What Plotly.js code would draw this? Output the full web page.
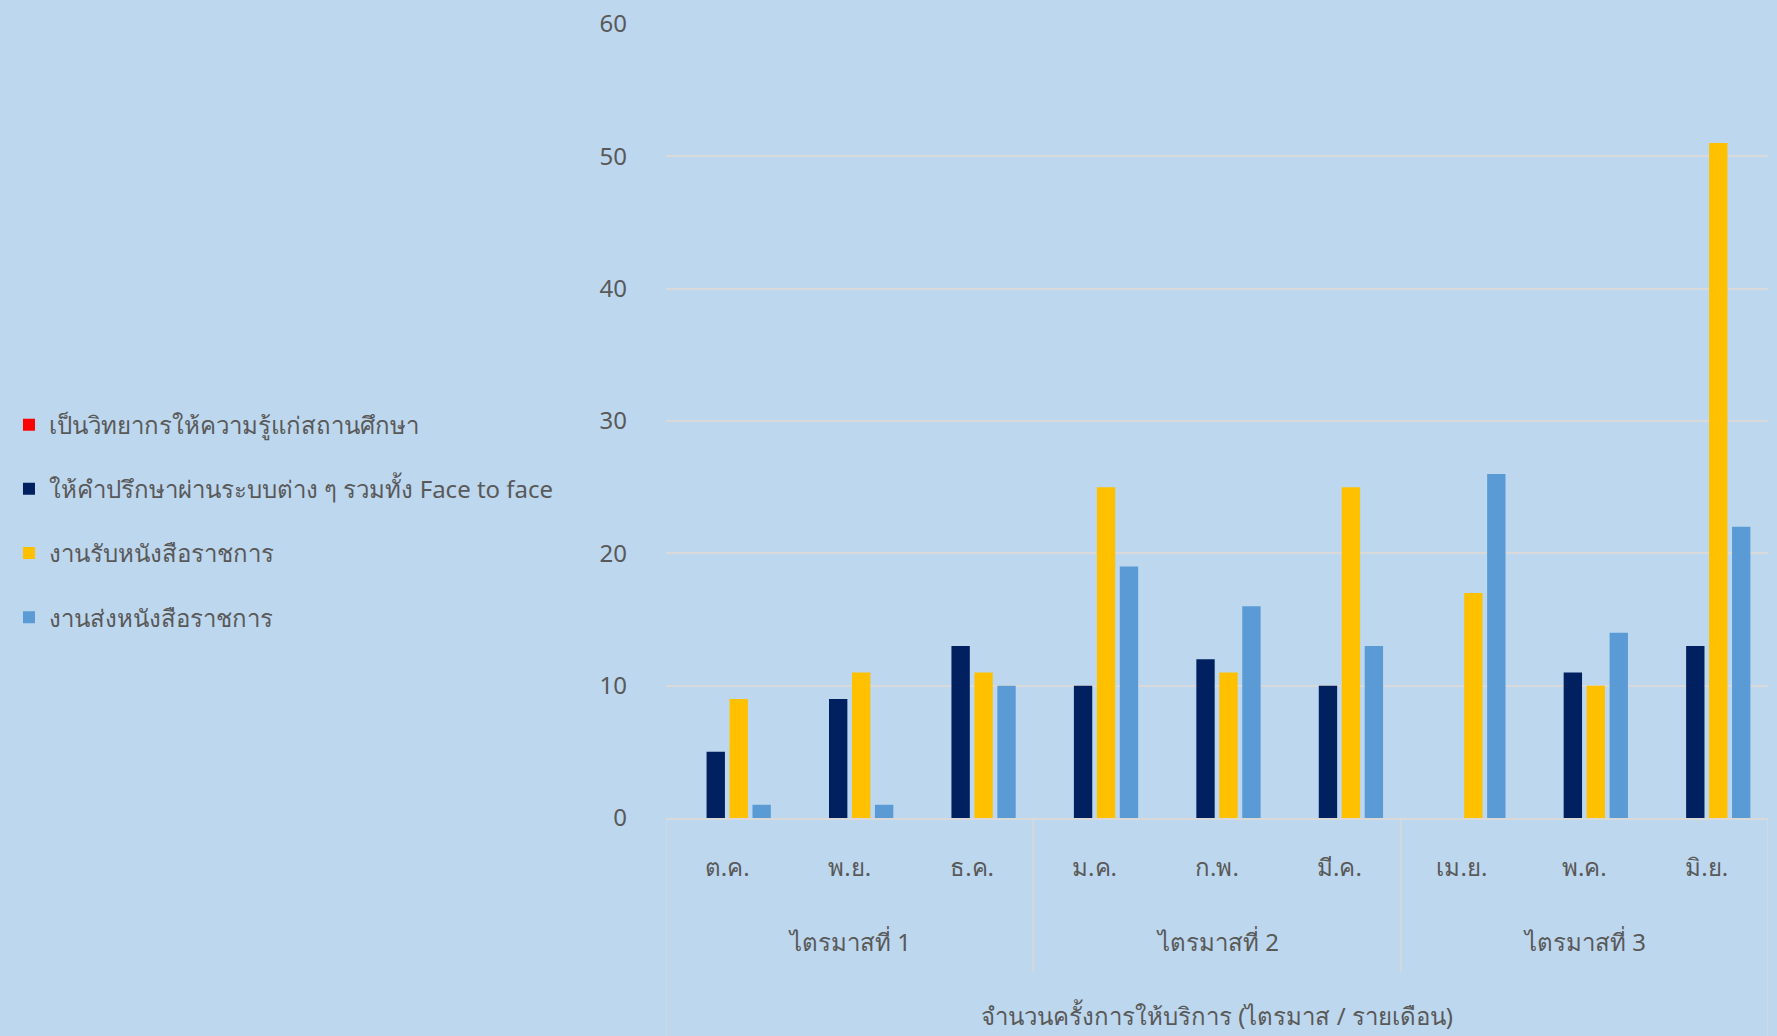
<!DOCTYPE html>
<html>
<head>
<meta charset="utf-8">
<script src="https://cdn.plot.ly/plotly-3.0.1.min.js"></script>
<style>html,body{margin:0;padding:0;background:#BDD7EE;}</style>
</head>
<body>
<div id="chart" style="width:1777px;height:1036px;"></div>
<script>
// Data
const months = ['ต.ค.', 'พ.ย.', 'ธ.ค.', 'ม.ค.', 'ก.พ.', 'มี.ค.', 'เม.ย.', 'พ.ค.', 'มิ.ย.'];
const quarterOfMonth = ['ไตรมาสที่ 1', 'ไตรมาสที่ 1', 'ไตรมาสที่ 1', 'ไตรมาสที่ 2', 'ไตรมาสที่ 2', 'ไตรมาสที่ 2', 'ไตรมาสที่ 3', 'ไตรมาสที่ 3', 'ไตรมาสที่ 3'];
const seriesNames = ['เป็นวิทยากรให้ความรู้แก่สถานศึกษา', 'ให้คำปรึกษาผ่านระบบต่าง ๆ รวมทั้ง Face to face', 'งานรับหนังสือราชการ', 'งานส่งหนังสือราชการ'];
const lecture = [0, 0, 0, 0, 0, 0, 0, 0, 0];
const consult = [5, 9, 13, 10, 12, 10, 0, 11, 13];
const received = [9, 11, 11, 25, 11, 25, 17, 10, 51];
const sent = [1, 1, 10, 19, 16, 13, 26, 14, 22];
const xTitle = 'จำนวนครั้งการให้บริการ (ไตรมาส / รายเดือน)';

const colors = ['#FF0000', '#002060', '#FFC000', '#5B9BD5'];
const values = [lecture, consult, received, sent];
const FONT = "'Leelawadee UI', Tahoma, 'Noto Sans', sans-serif";
const GREY = '#595959';
const LINE = '#D9D9D9';

const traces = values.map((v, i) => ({
  type: 'bar',
  name: seriesNames[i],
  x: months,
  y: v,
  legendgroup: 'g' + i,
  marker: {color: colors[i], line: {width: 0}},
  hoverinfo: 'x+y+name'
}));

// Quarter groups derived from quarterOfMonth
const groups = [];
quarterOfMonth.forEach((q, i) => {
  const last = groups[groups.length - 1];
  if (last && last.name === q) last.end = i;
  else groups.push({name: q, start: i, end: i});
});

const annotations = groups.map(g => ({
  xref: 'x', yref: 'paper',
  x: (g.start + g.end) / 2, y: -0.155,
  xanchor: 'center', yanchor: 'middle',
  text: g.name, showarrow: false,
  font: {family: FONT, size: 24, color: GREY}
}));

const shapes = [];
groups.forEach((g, gi) => {
  const isFirst = gi === 0;
  shapes.push({
    type: 'line', xref: 'x', yref: 'paper',
    x0: g.start - 0.5, x1: g.start - 0.5,
    y0: 0, y1: isFirst ? -0.28 : -0.194,
    line: {color: LINE, width: 1.5}
  });
  if (gi === groups.length - 1) {
    shapes.push({
      type: 'line', xref: 'x', yref: 'paper',
      x0: g.end + 0.5, x1: g.end + 0.5,
      y0: 0, y1: -0.28,
      line: {color: LINE, width: 1.5}
    });
  }
});

const ML = 661, MR = 9;
const plotW = 1777 - ML - MR;

const layout = {
  width: 1777,
  height: 1036,
  paper_bgcolor: '#BDD7EE',
  plot_bgcolor: '#BDD7EE',
  margin: {l: ML, r: MR, t: 24, b: 218},
  font: {family: FONT, color: GREY, size: 24},
  barmode: 'group',
  bargap: 0.25,
  bargroupgap: 0.2,
  showlegend: true,
  legend: {
    x: (1 - ML) / plotW, xanchor: 'left',
    y: 0.374, yanchor: 'middle',
    orientation: 'v',
    traceorder: 'grouped',
    tracegroupgap: 30,
    bgcolor: 'rgba(0,0,0,0)',
    font: {family: FONT, size: 24, color: GREY}
  },
  xaxis: {
    type: 'category',
    range: [-0.5, months.length - 0.5],
    showgrid: false,
    showline: true,
    linecolor: LINE,
    linewidth: 1.5,
    ticks: '',
    ticklabelstandoff: 27,
    tickfont: {family: FONT, size: 24, color: GREY},
    title: {text: xTitle, font: {family: FONT, size: 24, color: GREY}, standoff: 127}
  },
  yaxis: {
    range: [0, 60],
    dtick: 10,
    showgrid: true,
    gridcolor: LINE,
    gridwidth: 1.5,
    zeroline: false,
    showline: false,
    ticks: '',
    ticklabelstandoff: 38,
    tickfont: {family: FONT, size: 24, color: GREY}
  },
  annotations: annotations,
  shapes: shapes
};

Plotly.newPlot('chart', traces, layout, {displayModeBar: false, responsive: false});
</script>
</body>
</html>
